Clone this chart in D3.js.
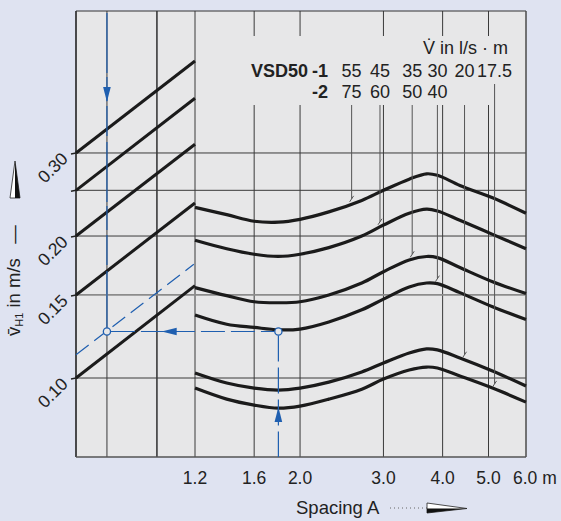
<!DOCTYPE html>
<html>
<head>
<meta charset="utf-8">
<script src="https://cdn.jsdelivr.net/npm/d3@7"></script>
<style>
body{margin:0;background:#dfe3f1;}
svg{display:block;font-family:'Liberation Sans',Arial,sans-serif;}
</style>
</head>
<body>
<div id="chart"></div>
<script>
// Spacing A in m, sample points of the right panel
const spacing = [1.2, 1.4, 1.6, 1.8, 2.0, 2.3, 2.7, 3.0, 3.4, 3.7, 3.9, 4.35, 5.1, 6.0];

// v_H1 in m/s per flow rate (VSD50-1 / VSD50-2)
const curve55  = [0.230, 0.222, 0.215, 0.214, 0.217, 0.225, 0.238, 0.250, 0.264, 0.271, 0.269, 0.256, 0.241, 0.2235];
const curve45  = [0.196, 0.188, 0.183, 0.181, 0.183, 0.189, 0.200, 0.211, 0.2235, 0.228, 0.226, 0.216, 0.2016, 0.188];
const curve35  = [0.1555, 0.1495, 0.1451, 0.1444, 0.1451, 0.150, 0.159, 0.168, 0.178, 0.181, 0.180, 0.1715, 0.160, 0.151];
const curve30  = [0.136, 0.130, 0.128, 0.1265, 0.127, 0.1315, 0.1395, 0.147, 0.156, 0.159, 0.1585, 0.1517, 0.1416, 0.133];
const curve20  = [0.1025, 0.0976, 0.0952, 0.0943, 0.0952, 0.098, 0.103, 0.1076, 0.113, 0.1153, 0.1147, 0.1103, 0.1035, 0.0962];
const curve175 = [0.0952, 0.0902, 0.0876, 0.0863, 0.0872, 0.0902, 0.0947, 0.0995, 0.104, 0.1055, 0.105, 0.101, 0.0952, 0.0889];

const flow1 = ['55', '45', '35', '30', '20', '17.5'];
const flow2 = ['75', '60', '50', '40'];
const leaderA = [2.57, 2.95, 3.45, 3.9, 4.45, 5.15];

// left conversion panel (0..1 across the panel)
const leftStart = [0.30, 0.25, 0.20, 0.15, 0.10];
const leftEnd   = [0.47, 0.392, 0.313, 0.235, 0.157];
const leftGrid  = [0.26, 0.68];

// axis ticks
const xTicks = [1.2, 1.6, 2.0, 3.0, 4.0, 5.0, 6.0];
const xTickLabels = ['1.2', '1.6', '2.0', '3.0', '4.0', '5.0', '6.0'];
const yGrid = [0.10, 0.15, 0.20, 0.25, 0.30];
const yTicks = [0.10, 0.15, 0.20, 0.30];
const yTickLabels = ['0.10', '0.15', '0.20', '0.30'];

// worked example (blue)
const exA = 1.8, exV = 0.1255, exLeft = 0.26;
const exDiag = [0.112, 0.175];

const W = 561, H = 521;
const x0 = 76, xBreak = 195, xEnd = 526, yTop = 11, yBot = 457;
const blue = '#1f5fb0', bg = '#e7e7e8';

let x = d3.scaleLog().domain([1.2, 6]).range([xBreak, xEnd]);
let xl = d3.scaleLinear().domain([0, 1]).range([x0, xBreak]);
let y = d3.scaleLog().domain([0.068, 0.6]).range([yBot, yTop]);

let svg = d3.select('#chart').append('svg').attr('width', W).attr('height', H);
svg.append('rect').attr('width', W).attr('height', H).attr('fill', '#dfe3f1');

svg.append('rect')
    .attr('x', x0).attr('y', yTop)
    .attr('width', xEnd - x0).attr('height', yBot - yTop)
    .attr('fill', bg);

// grid
let grid = svg.append('g');
grid.selectAll('.gl').data(leftGrid).enter().append('line')
    .attr('x1', d => xl(d)).attr('x2', d => xl(d))
    .attr('y1', yTop).attr('y2', yBot)
    .attr('stroke', '#3a3a3a')
    .attr('stroke-width', (d, i) => i ? 1.6 : 1);
grid.selectAll('.gx').data(xTicks).enter().append('line')
    .attr('x1', d => x(d)).attr('x2', d => x(d))
    .attr('y1', yTop).attr('y2', yBot)
    .attr('stroke', '#3a3a3a')
    .attr('stroke-width', 1);
grid.selectAll('.gy').data(yGrid).enter().append('line')
    .attr('x1', x0).attr('x2', xEnd)
    .attr('y1', d => y(d)).attr('y2', d => y(d))
    .attr('stroke', d => d == 0.15 ? '#8c8c8c' : '#3a3a3a')
    .attr('stroke-width', d => d == 0.15 ? 1.8 : 1);

// legend area interrupts the grid
svg.append('rect').attr('x', 242).attr('y', 36).attr('width', 282).attr('height', 69).attr('fill', bg);

// frame
let frame = svg.append('g').attr('fill', 'none');
frame.append('line').attr('x1', x0).attr('x2', x0).attr('y1', yTop).attr('y2', yBot).attr('stroke', '#222').attr('stroke-width', 1.6);
frame.append('line').attr('x1', x0).attr('x2', xEnd).attr('y1', yTop).attr('y2', yTop).attr('stroke', '#333').attr('stroke-width', 1);
frame.append('line').attr('x1', x0).attr('x2', xEnd).attr('y1', yBot).attr('y2', yBot).attr('stroke', '#555').attr('stroke-width', 1.6);
frame.append('line').attr('x1', xEnd).attr('x2', xEnd).attr('y1', yTop).attr('y2', yBot).attr('stroke', '#555').attr('stroke-width', 1);

// y tick marks
svg.append('g').selectAll('line').data(yGrid).enter().append('line')
    .attr('x1', x0 - 5).attr('x2', x0)
    .attr('y1', d => y(d) + 1).attr('y2', d => y(d))
    .attr('stroke', '#222').attr('stroke-width', 1.5);

// left panel lines
svg.append('g').selectAll('line').data(leftStart).enter().append('line')
    .attr('x1', xl(0)).attr('x2', xl(1))
    .attr('y1', d => y(d)).attr('y2', (d, i) => y(leftEnd[i]))
    .attr('stroke', '#1b1b1b').attr('stroke-width', 3);

// right panel curves
const curves = [curve55, curve45, curve35, curve30, curve20, curve175];
let line = d3.line()
    .x((d, i) => x(spacing[i]))
    .y(d => y(d))
    .curve(d3.curveCatmullRom.alpha(0.5));
svg.append('g').selectAll('path').data(curves).enter().append('path')
    .attr('d', line)
    .attr('fill', 'none')
    .attr('stroke', '#1b1b1b')
    .attr('stroke-width', 3.2);

// leader lines from the legend down to the curves
let leaders = svg.append('g').attr('stroke', '#555').attr('stroke-width', 1);
leaderA.forEach((a, i) => {
    let v = d3.scaleLog().domain(spacing).range(curves[i])(a);
    let lx = x(a), ly = y(v) - 5;
    let top = (flow2[i] || i == 4) ? 105 : 84;
    leaders.append('line').attr('x1', lx).attr('x2', lx).attr('y1', top).attr('y2', ly);
    leaders.append('line').attr('x1', lx - 2).attr('x2', lx + 2).attr('y1', ly + 3).attr('y2', ly - 3);
});

// worked example
let ex = svg.append('g');
function arrow(px, py, dir){
    // tip at (px,py), dir: 'down','up','left'
    let L = 15, w = 3.8, pts;
    if(dir == 'down') pts = [[px, py], [px - w, py - L], [px + w, py - L]];
    if(dir == 'up') pts = [[px, py], [px - w, py + L], [px + w, py + L]];
    if(dir == 'left') pts = [[px, py], [px + L, py - w], [px + L, py + w]];
    ex.append('polygon').attr('points', pts.map(p => p.join(',')).join(' ')).attr('fill', blue);
}
ex.append('line')
    .attr('x1', xl(0)).attr('x2', xl(0.99))
    .attr('y1', y(exDiag[0])).attr('y2', y(exDiag[0] * Math.pow(exDiag[1] / exDiag[0], 0.99)))
    .attr('stroke', blue).attr('stroke-width', 1.2).attr('stroke-dasharray', '16,7');
ex.append('line')
    .attr('x1', xl(exLeft)).attr('x2', xl(exLeft))
    .attr('y1', yTop + 2).attr('y2', y(exV) - 4)
    .attr('stroke', blue).attr('stroke-width', 1.2).attr('stroke-dasharray', '60,4,24,5,30,6');
ex.append('line')
    .attr('x1', xl(exLeft) + 4).attr('x2', x(exA) - 4)
    .attr('y1', y(exV)).attr('y2', y(exV))
    .attr('stroke', blue).attr('stroke-width', 1.2).attr('stroke-dasharray', '24,6');
ex.append('line')
    .attr('x1', x(exA)).attr('x2', x(exA))
    .attr('y1', y(exV) + 4).attr('y2', yBot)
    .attr('stroke', blue).attr('stroke-width', 1.2).attr('stroke-dasharray', '26,6');
arrow(xl(exLeft), y(0.385), 'down');
arrow(xl(0.72), y(exV), 'left');
arrow(x(exA), y(0.0868), 'up');
ex.selectAll('circle').data([[xl(exLeft), y(exV)], [x(exA), y(exV)]]).enter().append('circle')
    .attr('cx', d => d[0]).attr('cy', d => d[1]).attr('r', 3.6)
    .attr('fill', bg).attr('stroke', blue).attr('stroke-width', 1.3);

// axis labels
let txt = svg.append('g').attr('fill', '#222').style('font-size', '17.5px');
txt.selectAll('.yl').data(yTicks).enter().append('text')
    .attr('transform', d => `translate(69,${y(d) + 7}) rotate(-45)`)
    .attr('text-anchor', 'end')
    .text((d, i) => yTickLabels[i]);
txt.selectAll('.xl').data(xTicks).enter().append('text')
    .attr('x', d => x(d))
    .attr('y', 484)
    .attr('text-anchor', (d, i) => i == xTicks.length - 1 ? 'start' : 'middle')
    .attr('dx', (d, i) => i == xTicks.length - 1 ? -13 : 0)
    .text((d, i) => xTickLabels[i] + (i == xTicks.length - 1 ? ' m' : ''));

txt.append('text').attr('x', 296).attr('y', 514).style('font-size', '18.5px').text('Spacing A');
svg.append('line').attr('x1', 390).attr('x2', 427).attr('y1', 508).attr('y2', 508)
    .attr('stroke', '#666').attr('stroke-width', 1).attr('stroke-dasharray', '1,3');
svg.append('polygon').attr('points', '427,503 467,508.5 427,513').attr('fill', '#fff').attr('stroke', '#222').attr('stroke-width', 0.8);
svg.append('polygon').attr('points', '427,508.5 467,508.5 427,513').attr('fill', '#111');

let yt = txt.append('text').attr('transform', 'translate(20,336) rotate(-90)').style('font-size', '18.5px');
yt.append('tspan').text('v\u0304');
yt.append('tspan').attr('dy', 3).style('font-size', '11px').text('H1');
yt.append('tspan').attr('dy', -3).text(' in m/s \u2002\u2014');
svg.append('polygon').attr('points', '15,161 20,198 10,198').attr('fill', '#fff').attr('stroke', '#222').attr('stroke-width', 0.8);
svg.append('polygon').attr('points', '15,161 20,198 15,198').attr('fill', '#111');

// legend
let lg = txt.append('g').style('font-size', '18px');
lg.append('text').attr('x', 508).attr('y', 54).attr('text-anchor', 'end').text('V\u0307 in l/s \u00b7 m');
lg.append('text').attr('x', 308).attr('y', 77).attr('text-anchor', 'end').style('font-weight', 'bold').text('VSD50');
lg.append('text').attr('x', 312).attr('y', 77).style('font-weight', 'bold').text('-1');
lg.append('text').attr('x', 312).attr('y', 98).style('font-weight', 'bold').text('-2');
lg.selectAll('.f1').data(flow1).enter().append('text')
    .attr('x', (d, i) => x(leaderA[i])).attr('y', 77)
    .attr('text-anchor', 'middle').text(d => d);
lg.selectAll('.f2').data(flow2).enter().append('text')
    .attr('x', (d, i) => x(leaderA[i])).attr('y', 98)
    .attr('text-anchor', 'middle').text(d => d);
</script>
</body>
</html>
